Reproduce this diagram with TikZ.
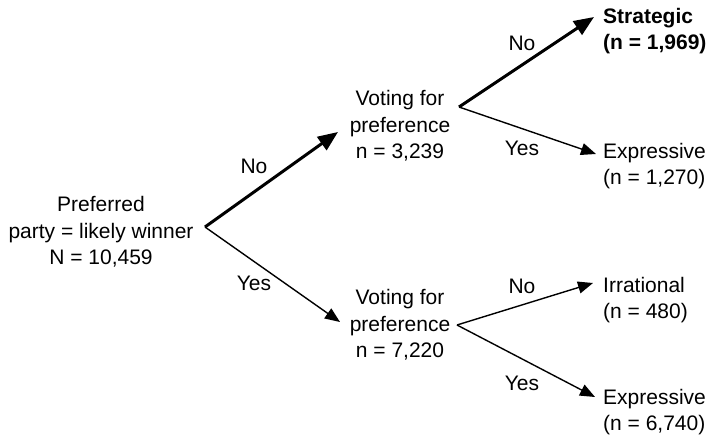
\documentclass[tikz,border=0pt]{standalone}
\usepackage{fontspec}
\setmainfont{Liberation Sans}
\usetikzlibrary{arrows.meta}
\begin{document}
\begin{tikzpicture}[x=1pt,y=-1pt,
  txt/.style={font=\fontsize{21}{26.5}\selectfont, inner sep=0pt, align=center},
  leaf/.style={font=\fontsize{21}{26.5}\selectfont, inner sep=0pt, align=left, anchor=west},
  thickarrow/.style={line width=3pt, -{Triangle[length=20pt,width=16pt]}},
  thinarrow/.style={line width=1.4pt, -{Triangle[length=15pt,width=12pt]}}]
\useasboundingbox (0,0) rectangle (707,436);
% text nodes
\node[txt] (root) at (101,232) {Preferred\\party = likely winner\\N = 10,459};
\node[txt] (m1) at (400,126) {Voting for\\preference\\n = 3,239};
\node[txt] (m2) at (400,325) {Voting for\\preference\\n = 7,220};
\node[leaf,font=\fontsize{21}{26.5}\selectfont\bfseries] (s) at (603,31) {Strategic\\(n = 1,969)};
\node[leaf] (e1) at (603,166) {Expressive\\(n = 1,270)};
\node[leaf] (ir) at (603,300) {Irrational\\(n = 480)};
\node[leaf] (e2) at (603,412) {Expressive\\(n = 6,740)};
% branch points and arrow tips
\coordinate (v0) at (205,227);
\coordinate (v1) at (459,107);
\coordinate (v2) at (457,325);
\coordinate (m1in) at (338,132);
\coordinate (m2in) at (340,322);
\coordinate (sin) at (594,17);
\coordinate (e1in) at (596,154);
\coordinate (irin) at (593,283);
\coordinate (e2in) at (595,397);
% connectors
\draw[thickarrow] (v0) -- (m1in);
\draw[thinarrow] (v0) -- (m2in);
\draw[thickarrow] (v1) -- (sin);
\draw[thinarrow] (v1) -- (e1in);
\draw[thinarrow] (v2) -- (irin);
\draw[thinarrow] (v2) -- (e2in);
% labels
\node[txt] (l1) at (254,166) {No};
\node[txt] (l2) at (254,283) {Yes};
\node[txt] (l3) at (522,43) {No};
\node[txt] (l4) at (522,148) {Yes};
\node[txt] (l5) at (522,286) {No};
\node[txt] (l6) at (522,383) {Yes};
\end{tikzpicture}
\end{document}
